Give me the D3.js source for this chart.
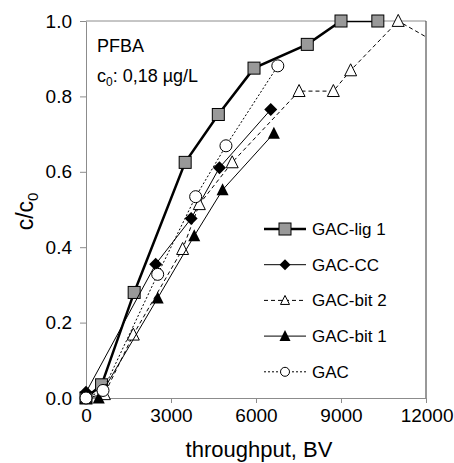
<!DOCTYPE html>
<html>
<head>
<meta charset="utf-8">
<script src="https://cdn.jsdelivr.net/npm/d3@7"></script>
<style>
  body { margin: 0; background: #fff; }
  svg { display: block; font-family: "Liberation Sans", Arial, sans-serif; }
</style>
</head>
<body>
<svg id="chart" width="454" height="463"></svg>
<script>
// values
const seriesNames = ["GAC-lig 1", "GAC-CC", "GAC-bit 2", "GAC-bit 1", "GAC"];

const ligX = [0, 550, 1700, 3500, 4670, 5930, 7810, 9000, 10300];
const ligY = [0, 0.035, 0.28, 0.625, 0.752, 0.875, 0.938, 1.0, 1.0];

const ccX = [0, 2460, 3710, 4710, 6520];
const ccY = [0.015, 0.355, 0.476, 0.611, 0.765];

const bit2X = [0, 650, 1670, 3410, 4000, 5160, 7520, 8730, 9340, 11020, 13000];
const bit2Y = [0, 0.01, 0.168, 0.395, 0.514, 0.625, 0.814, 0.814, 0.869, 1.0, 0.915];

const bit1X = [0, 450, 2530, 3820, 4820, 6630];
const bit1Y = [0, 0, 0.265, 0.43, 0.552, 0.702];

const gacX = [0, 600, 2530, 3870, 4940, 6770];
const gacY = [0, 0.02, 0.328, 0.534, 0.669, 0.881];

const xTicks = [0, 3000, 6000, 9000, 12000];
const yTicks = [0, 0.2, 0.4, 0.6, 0.8, 1.0];

const svg = d3.select("#chart");
const margin = { top: 21, right: 28, bottom: 65, left: 86 };
const width = 454 - margin.left - margin.right;
const height = 463 - margin.top - margin.bottom;

const x = d3.scaleLinear().domain([0, 12000]).range([0, width]);
const y = d3.scaleLinear().domain([0, 1]).range([height, 0]);

const g = svg.append("g").attr("transform", `translate(${margin.left},${margin.top})`);

g.append("clipPath").attr("id", "plotClip")
  .append("rect").attr("width", width).attr("height", height);

// frame: top gray, right dark
g.append("line").attr("x1", 0).attr("x2", width).attr("y1", 0).attr("y2", 0)
  .attr("stroke", "#8c8c8c").attr("stroke-width", 1);
g.append("line").attr("x1", width).attr("x2", width).attr("y1", 0).attr("y2", height)
  .attr("stroke", "#333").attr("stroke-width", 1);

const xAxis = g.append("g").attr("transform", `translate(0,${height})`)
  .call(d3.axisBottom(x).tickValues(xTicks).tickFormat(d3.format("d")).tickSize(5).tickSizeOuter(0).tickPadding(6));
const yAxis = g.append("g")
  .call(d3.axisLeft(y).tickValues(yTicks).tickFormat(d3.format(".1f")).tickSize(6).tickSizeOuter(0).tickPadding(8));

[xAxis, yAxis].forEach(a => {
  a.select(".domain").attr("stroke", "#8c8c8c");
  a.selectAll(".tick line").attr("stroke", "#8c8c8c");
  a.selectAll(".tick text").attr("fill", "#000").style("font-size", "19px");
});
// keep the last x label inside the window
xAxis.selectAll(".tick text").filter(d => d === 12000).attr("text-anchor", "end").attr("dx", 27);

// axis titles
svg.append("text")
  .attr("x", margin.left + width / 2 + 3).attr("y", 457)
  .attr("text-anchor", "middle").style("font-size", "22px")
  .text("throughput, BV");

const yTitle = svg.append("text")
  .attr("transform", `translate(33,${margin.top + height / 2 + 2}) rotate(-90)`)
  .attr("text-anchor", "middle").style("font-size", "23px");
yTitle.append("tspan").text("c/c");
yTitle.append("tspan").attr("dy", 5).style("font-size", "15px").text("0");

// annotation
g.append("text").attr("x", 11).attr("y", 31).style("font-size", "18px").text("PFBA");
const c0 = g.append("text").attr("x", 11).attr("y", 61).style("font-size", "18px");
c0.append("tspan").text("c");
c0.append("tspan").attr("dy", 4).style("font-size", "12px").text("0");
c0.append("tspan").attr("dy", -4).text(": 0,18 µg/L");

// marker shapes
function drawMarker(sel, type, s) {
  const h = s / 2;
  if (type === "square") {
    sel.append("rect").attr("x", -h).attr("y", -h).attr("width", s).attr("height", s)
      .attr("fill", "#999").attr("stroke", "#000").attr("stroke-width", 1);
  } else if (type === "diamond") {
    sel.append("path").attr("d", `M0,${-h}L${h},0L0,${h}L${-h},0Z`).attr("fill", "#000");
  } else if (type === "openTri") {
    sel.append("path").attr("d", `M0,${-s * 0.55}L${h},${s * 0.45}L${-h},${s * 0.45}Z`)
      .attr("fill", "#fff").attr("stroke", "#000").attr("stroke-width", 1);
  } else if (type === "tri") {
    sel.append("path").attr("d", `M0,${-s * 0.55}L${h},${s * 0.45}L${-h},${s * 0.45}Z`)
      .attr("fill", "#000");
  } else if (type === "circle") {
    sel.append("circle").attr("r", h).attr("fill", "#fff").attr("stroke", "#000").attr("stroke-width", 1);
  }
}

const series = [
  { name: seriesNames[0], xs: ligX, ys: ligY, width: 2.5, dash: null, marker: "square", size: 12, legSize: 12 },
  { name: seriesNames[1], xs: ccX, ys: ccY, width: 1, dash: null, marker: "diamond", size: 13, legSize: 11 },
  { name: seriesNames[2], xs: bit2X, ys: bit2Y, width: 1, dash: "4,3", marker: "openTri", size: 12, legSize: 9 },
  { name: seriesNames[3], xs: bit1X, ys: bit1Y, width: 1, dash: null, marker: "tri", size: 12, legSize: 11 },
  { name: seriesNames[4], xs: gacX, ys: gacY, width: 1, dash: "2,2", marker: "circle", size: 12, legSize: 9 }
];

const line = d3.line().x(d => x(d[0])).y(d => y(d[1]));

series.forEach(s => {
  const pts = s.xs.map((v, i) => [v, s.ys[i]]);
  g.append("path").datum(pts)
    .attr("d", line)
    .attr("fill", "none")
    .attr("stroke", "#000")
    .attr("stroke-width", s.width)
    .attr("stroke-dasharray", s.dash)
    .attr("clip-path", "url(#plotClip)");
  g.selectAll(null).data(pts.filter(p => p[0] <= 12000)).enter().append("g")
    .attr("transform", d => `translate(${x(d[0])},${y(d[1])})`)
    .each(function() { drawMarker(d3.select(this), s.marker, s.size); });
});

// legend
const legend = svg.append("g").attr("transform", "translate(264,229)");
series.forEach((s, i) => {
  const row = legend.append("g").attr("transform", `translate(0,${i * 35.7})`);
  row.append("line").attr("x1", 0).attr("x2", 42).attr("y1", 0).attr("y2", 0)
    .attr("stroke", "#000").attr("stroke-width", s.width).attr("stroke-dasharray", s.dash);
  const m = row.append("g").attr("transform", "translate(21,0)");
  drawMarker(m, s.marker, s.legSize);
  row.append("text").attr("x", 48).attr("y", 6).style("font-size", "17px").text(s.name);
});
</script>
</body>
</html>
